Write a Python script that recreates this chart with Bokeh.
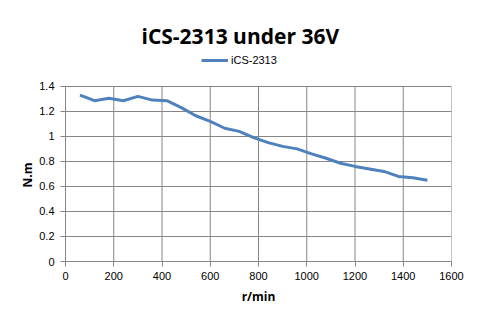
from bokeh.plotting import figure
from bokeh.models import Range1d, FixedTicker, Legend, LegendItem, ColumnDataSource, Title
from bokeh.embed import file_html
from bokeh.resources import INLINE

speed = [60, 120, 180, 240, 300, 360, 420, 480, 540, 600, 660, 720, 780, 840,
         900, 960, 1020, 1080, 1140, 1200, 1260, 1320, 1380, 1440, 1500]
torque = [1.33, 1.285, 1.305, 1.285, 1.32, 1.29, 1.285, 1.23, 1.165, 1.12, 1.065,
          1.04, 0.99, 0.95, 0.92, 0.90, 0.86, 0.825, 0.785, 0.76, 0.74, 0.72,
          0.68, 0.67, 0.65]
x_ticks = [0, 200, 400, 600, 800, 1000, 1200, 1400, 1600]
y_ticks = [0, 0.2, 0.4, 0.6, 0.8, 1.0, 1.2, 1.4]
title_text = "iCS-2313 under 36V"
series_name = "iCS-2313"
x_label = "r/min"
y_label = "N.m"

GRID = "#868686"
Y_MAX = y_ticks[-1]
# frame extends above the top tick to hold the legend row
Y_TOP = Y_MAX * 212 / 176

p = figure(width=465, height=307, output_backend="svg", toolbar_location=None,
           x_range=Range1d(x_ticks[0], x_ticks[-1]), y_range=Range1d(0, Y_TOP),
           min_border_left=65, min_border_right=14, min_border_top=50, min_border_bottom=45)
p.outline_line_color = None
p.background_fill_color = "white"
p.border_fill_color = "white"

# vertical grid lines, limited to the value range
p.segment(x0=x_ticks, y0=[0] * len(x_ticks), x1=x_ticks, y1=[Y_MAX] * len(x_ticks),
          line_color=GRID, line_width=1, level="underlay")

src = ColumnDataSource(dict(x=speed, y=torque))
r = p.line("x", "y", source=src, line_color="#4F81BD", line_width=3)

for ax, ticks in ((p.xaxis[0], x_ticks), (p.yaxis[0], y_ticks)):
    ax.ticker = FixedTicker(ticks=ticks)
    ax.axis_line_color = GRID
    ax.major_tick_line_color = GRID
    ax.major_tick_in = 0
    ax.major_tick_out = 5
    ax.minor_tick_line_color = None
    ax.major_label_text_font = "Liberation Sans"
    ax.major_label_text_font_size = "11px"
    ax.major_label_text_color = "#000000"
    ax.axis_label_text_font = "Open Sans"
    ax.axis_label_text_font_style = "bold"
    ax.axis_label_text_font_size = "12px"
    ax.axis_label_text_color = "#000000"

p.yaxis[0].bounds = (0, Y_MAX)
p.yaxis[0].major_label_overrides = {0: "0", 1.0: "1"}
p.xaxis.axis_label = x_label
p.xaxis.major_label_standoff = 5
p.xaxis.axis_label_standoff = 5
p.yaxis.major_label_standoff = 6

p.xgrid.visible = False
p.ygrid[0].ticker = FixedTicker(ticks=y_ticks)
p.ygrid[0].grid_line_color = GRID
p.ygrid[0].grid_line_width = 1

legend = Legend(items=[LegendItem(label=series_name, renderers=[r])],
                location=(136, 195), orientation="horizontal",
                glyph_width=27, glyph_height=12, label_height=12, label_standoff=3,
                padding=0, margin=0, spacing=0,
                border_line_color=None, background_fill_alpha=0,
                label_text_font="Liberation Sans", label_text_font_size="11px",
                label_text_color="#000000")
p.add_layout(legend)

p.title = Title(text=title_text, align="left", offset=76, vertical_align="bottom",
                text_font="Open Sans", text_font_style="bold", text_font_size="21px",
                text_color="#000000", standoff=2)

ytitle = Title(text=y_label, align="left", offset=74, vertical_align="bottom",
               text_font="Open Sans", text_font_style="bold", text_font_size="12px",
               text_color="#000000", standoff=2)
p.add_layout(ytitle, "left")

open("out.html", "w").write(file_html(p, INLINE))
